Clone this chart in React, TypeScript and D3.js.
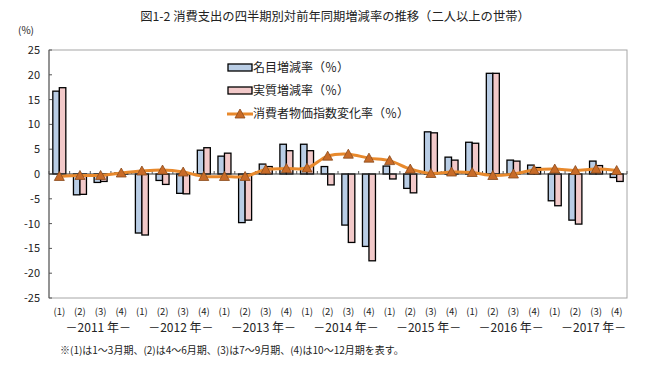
import React from "react";
import * as d3 from "d3";

const quarters = [
  "(1)", "(2)", "(3)", "(4)", "(1)", "(2)", "(3)", "(4)", "(1)", "(2)", "(3)", "(4)", "(1)", "(2)",
  "(3)", "(4)", "(1)", "(2)", "(3)", "(4)", "(1)", "(2)", "(3)", "(4)", "(1)", "(2)", "(3)", "(4)",
];
const years = ["2011", "2012", "2013", "2014", "2015", "2016", "2017"];

// 名目増減率
const nominal = [
  16.7, -4.2, -1.7, 0.2, -11.9, -1.3, -3.9, 4.8, 3.6, -9.8, 2.0, 6.0, 6.0, 1.5,
  -10.3, -14.6, 1.6, -2.9, 8.5, 3.4, 6.4, 20.3, 2.8, 1.8, -5.4, -9.3, 2.6, -0.7,
];
// 実質増減率
const real = [
  17.4, -4.1, -1.5, 0.1, -12.3, -2.1, -4.0, 5.3, 4.2, -9.3, 1.5, 4.7, 4.7, -2.2,
  -13.8, -17.5, -1.0, -3.8, 8.3, 2.8, 6.2, 20.3, 2.6, 1.3, -6.4, -10.1, 1.7, -1.5,
];
// 消費者物価指数変化率
const cpi = [
  -0.5, -0.3, -0.3, 0.2, 0.6, 0.8, 0.4, -0.5, -0.5, -0.5, 0.9, 1.1, 1.2, 3.6,
  4.0, 3.2, 2.7, 1.0, 0.1, 0.4, 0.3, -0.3, 0.0, 0.8, 1.0, 0.7, 1.0, 0.7,
];
const yTicks = [25, 20, 15, 10, 5, 0, -5, -10, -15, -20, -25];

const FONT = "'Noto Sans CJK JP', 'Noto Sans', sans-serif";
const BLUE = "#b9cde5";
const PINK = "#f2c9c9";
const ORANGE = "#e8892c";
const TRI = "#c86b28";

const Tri = ({ x, y }: { x: number; y: number }) => (
  <path
    d={`M${x},${y - 5}L${x + 5},${y + 4}L${x - 5},${y + 4}Z`}
    fill={TRI}
    stroke="#8a4a1c"
    strokeWidth={0.8}
  />
);

export default function App() {
  const width = 660;
  const height = 366;
  const left = 49, right = 627, top = 50, bottom = 298;

  const idx = quarters.map((_, i) => i);
  const x = d3.scaleBand<number>().domain(idx).range([left, right]).paddingInner(0.37).paddingOuter(0.185);
  const step = x.step();
  const bw = x.bandwidth() / 2;
  const y = d3.scaleLinear().domain([-25, 25]).range([bottom, top]);

  const line = d3
    .line<number>()
    .x((_, i) => (x(i) as number) + bw)
    .y((d) => y(d))
    .curve(d3.curveCatmullRom.alpha(0.5));

  const bar = (v: number, bx: number, fill: string, key: string) => (
    <rect
      key={key}
      x={bx}
      y={Math.min(y(v), y(0))}
      width={bw}
      height={Math.abs(y(v) - y(0))}
      fill={fill}
      stroke="#000"
      strokeWidth={1.3}
    />
  );

  return (
    <svg width={width} height={height} style={{ position: "absolute", left: 0, top: 0, background: "#fff" }} fontFamily={FONT}>
      <rect width={width} height={height} fill="#fff" />
      <text x={335} y={21} textAnchor="middle" fontSize={12.3} fill="#222">
        図1-2 消費支出の四半期別対前年同期増減率の推移（二人以上の世帯）
      </text>
      <text x={26} y={34} textAnchor="middle" fontSize={10} fill="#222">(%)</text>

      <rect x={left} y={top} width={right - left} height={bottom - top} fill="none" stroke="#a6a6a6" strokeWidth={1} />
      <line x1={left} x2={left} y1={top} y2={bottom} stroke="#555" strokeWidth={1} />

      {yTicks.map((t) => (
        <g key={t}>
          <line x1={left} x2={left + 3} y1={y(t)} y2={y(t)} stroke="#555" />
          <text x={40} y={y(t) + 4} textAnchor="end" fontSize={11} fill="#222">{t}</text>
        </g>
      ))}

      {nominal.map((v, i) => bar(v, x(i) as number, BLUE, `n${i}`))}
      {real.map((v, i) => bar(v, (x(i) as number) + bw, PINK, `r${i}`))}

      <line x1={left} x2={right} y1={y(0)} y2={y(0)} stroke="#333" strokeWidth={1} />
      {d3.range(0, quarters.length + 1).map((i) => (
        <line key={`t${i}`} x1={left + i * step} x2={left + i * step} y1={y(0)} y2={y(0) - 3} stroke="#555" />
      ))}

      <path d={line(cpi) || ""} fill="none" stroke={ORANGE} strokeWidth={3} />
      {cpi.map((v, i) => (
        <Tri key={`c${i}`} x={(x(i) as number) + bw} y={y(v)} />
      ))}

      {quarters.map((q, i) => (
        <text key={`q${i}`} x={left + (i + 0.5) * step} y={315} textAnchor="middle" fontSize={9.5} fill="#222">{q}</text>
      ))}
      {years.map((yr, i) => (
        <text key={yr} x={left + (i * 4 + 2) * step + 8} y={332} textAnchor="middle" fontSize={12} fill="#222">
          {`－${yr} 年－`}
        </text>
      ))}
      <text x={60} y={354} fontSize={10} fill="#222">
        ※(1)は1～3月期、(2)は4～6月期、(3)は7～9月期、(4)は10～12月期を表す。
      </text>

      <g>
        <rect x={228} y={64} width={24} height={7} fill={BLUE} stroke="#000" strokeWidth={1.3} />
        <text x={253} y={72} fontSize={12} fill="#222">名目増減率（％）</text>
        <rect x={228} y={87} width={24} height={7} fill={PINK} stroke="#000" strokeWidth={1.3} />
        <text x={253} y={95} fontSize={12} fill="#222">実質増減率（％）</text>
        <line x1={227} x2={253} y1={114} y2={114} stroke={ORANGE} strokeWidth={3} />
        <Tri x={240} y={114} />
        <text x={253} y={118} fontSize={12} fill="#222">消費者物価指数変化率（％）</text>
      </g>
    </svg>
  );
}
